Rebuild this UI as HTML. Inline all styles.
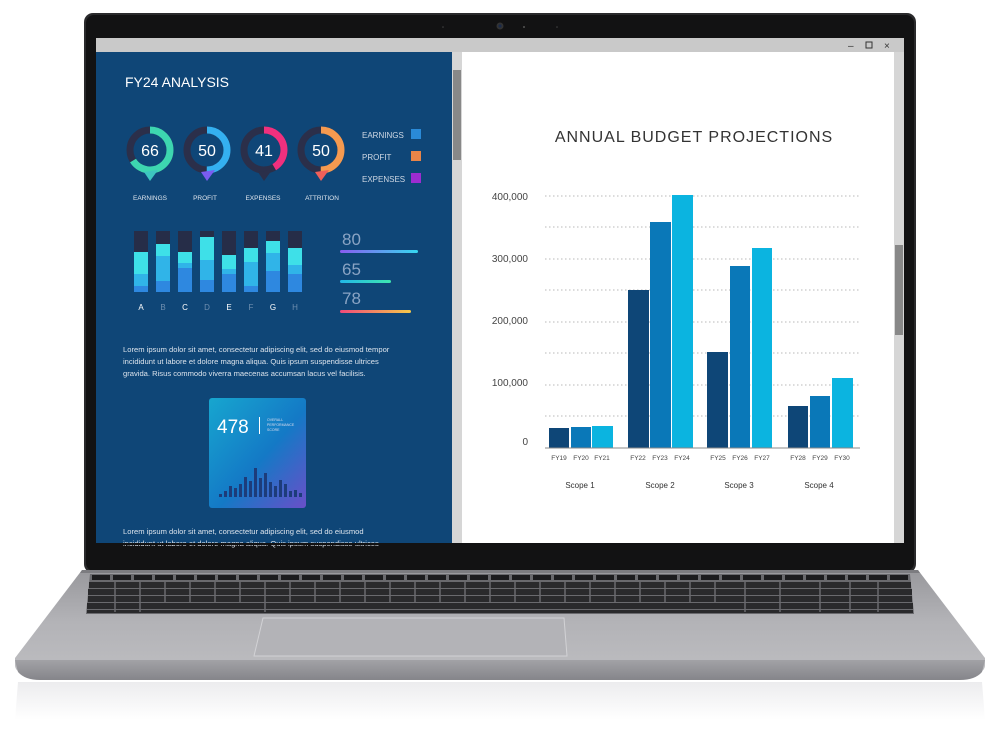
<!DOCTYPE html>
<html><head><meta charset="utf-8"><style>
html,body{margin:0;padding:0;background:#fff;}
body{width:1000px;height:740px;position:relative;overflow:hidden;font-family:"Liberation Sans",sans-serif;}
.a{position:absolute;}
</style></head><body>
<svg class="a" style="left:0;top:0" width="1000" height="740" viewBox="0 0 1000 740" font-family="Liberation Sans, sans-serif">
<defs>
<linearGradient id="deck" x1="0" y1="0" x2="0" y2="1"><stop offset="0" stop-color="#98989c"/><stop offset="0.5" stop-color="#b3b3b7"/><stop offset="1" stop-color="#bdbdc0"/></linearGradient>
<linearGradient id="lip" x1="0" y1="0" x2="0" y2="1"><stop offset="0" stop-color="#a2a2a6"/><stop offset="1" stop-color="#85858a"/></linearGradient>
<linearGradient id="card" x1="0" y1="0" x2="1" y2="1"><stop offset="0" stop-color="#17a6cf"/><stop offset="0.55" stop-color="#1479c6"/><stop offset="1" stop-color="#6a4fc8"/></linearGradient>
<linearGradient id="g1" x1="0" y1="0" x2="1" y2="0"><stop offset="0" stop-color="#8a5cf0"/><stop offset="1" stop-color="#36d8f0"/></linearGradient>
<linearGradient id="g2" x1="0" y1="0" x2="1" y2="0"><stop offset="0" stop-color="#22b8e8"/><stop offset="1" stop-color="#3ee6b0"/></linearGradient>
<linearGradient id="g3" x1="0" y1="0" x2="1" y2="0"><stop offset="0" stop-color="#f04a7a"/><stop offset="1" stop-color="#f5c94a"/></linearGradient>
<linearGradient id="refl" x1="0" y1="0" x2="0" y2="1"><stop offset="0" stop-color="#ececee"/><stop offset="1" stop-color="#fff"/></linearGradient>
</defs>
<path d="M18 682 L982 682 L985 720 L15 720Z" fill="url(#refl)"/>
<rect x="84" y="13" width="832" height="560" rx="9" fill="#2a2a2c"/>
<rect x="86" y="15" width="828" height="556" rx="8" fill="#121213"/>
<circle cx="500" cy="26" r="3.5" fill="#333"/><circle cx="500" cy="26" r="1.6" fill="#1a2a4a"/>
<circle cx="524" cy="27" r="1" fill="#555"/><circle cx="443" cy="27" r="0.8" fill="#444"/><circle cx="557" cy="27" r="0.8" fill="#444"/>
<path d="M82 570 L918 570 L985 658 L985 665 Q985 672 975 674 L25 674 Q15 672 15 665 L15 658Z" fill="url(#deck)"/>
<path d="M15 660 L985 660 L982 672 Q975 680 960 680 L40 680 Q25 680 18 672Z" fill="url(#lip)"/>
<path d="M82 570 L918 570 L920 573 L80 573Z" fill="#7c7c80"/>
<path d="M90 574 L910 574 L914 614 L86 614Z" fill="#6a6a6e"/>
<g fill="#1c1c1e">
<rect x="92" y="575" width="18" height="5"/><rect x="113" y="575" width="18" height="5"/><rect x="134" y="575" width="18" height="5"/><rect x="155" y="575" width="18" height="5"/><rect x="176" y="575" width="18" height="5"/><rect x="197" y="575" width="18" height="5"/><rect x="218" y="575" width="18" height="5"/><rect x="239" y="575" width="18" height="5"/><rect x="260" y="575" width="18" height="5"/><rect x="281" y="575" width="18" height="5"/><rect x="302" y="575" width="18" height="5"/><rect x="323" y="575" width="18" height="5"/><rect x="344" y="575" width="18" height="5"/><rect x="365" y="575" width="18" height="5"/><rect x="386" y="575" width="18" height="5"/><rect x="407" y="575" width="18" height="5"/><rect x="428" y="575" width="18" height="5"/><rect x="449" y="575" width="18" height="5"/><rect x="470" y="575" width="18" height="5"/><rect x="491" y="575" width="18" height="5"/><rect x="512" y="575" width="18" height="5"/><rect x="533" y="575" width="18" height="5"/><rect x="554" y="575" width="18" height="5"/><rect x="575" y="575" width="18" height="5"/><rect x="596" y="575" width="18" height="5"/><rect x="617" y="575" width="18" height="5"/><rect x="638" y="575" width="18" height="5"/><rect x="659" y="575" width="18" height="5"/><rect x="680" y="575" width="18" height="5"/><rect x="701" y="575" width="18" height="5"/><rect x="722" y="575" width="18" height="5"/><rect x="743" y="575" width="18" height="5"/><rect x="764" y="575" width="18" height="5"/><rect x="785" y="575" width="18" height="5"/><rect x="806" y="575" width="18" height="5"/><rect x="827" y="575" width="18" height="5"/><rect x="848" y="575" width="18" height="5"/><rect x="869" y="575" width="18" height="5"/><rect x="890" y="575" width="18" height="5"/>
</g>
<g fill="#2a2a2c">
<rect x="89" y="582" width="822" height="6"/><rect x="88" y="589" width="824" height="6"/><rect x="88" y="596" width="824" height="6"/><rect x="87" y="603" width="826" height="6"/><rect x="87" y="610" width="826" height="3"/>
</g>
<g stroke="#6a6a6e" stroke-width="1.5">
<line x1="115" y1="582" x2="115" y2="612"/><line x1="140" y1="582" x2="140" y2="612"/><line x1="165" y1="582" x2="165" y2="603"/><line x1="190" y1="582" x2="190" y2="603"/><line x1="215" y1="582" x2="215" y2="603"/><line x1="240" y1="582" x2="240" y2="603"/><line x1="265" y1="582" x2="265" y2="612"/><line x1="290" y1="582" x2="290" y2="603"/><line x1="315" y1="582" x2="315" y2="603"/><line x1="340" y1="582" x2="340" y2="603"/><line x1="365" y1="582" x2="365" y2="603"/><line x1="390" y1="582" x2="390" y2="603"/><line x1="415" y1="582" x2="415" y2="603"/><line x1="440" y1="582" x2="440" y2="603"/><line x1="465" y1="582" x2="465" y2="603"/><line x1="490" y1="582" x2="490" y2="603"/><line x1="515" y1="582" x2="515" y2="603"/><line x1="540" y1="582" x2="540" y2="603"/><line x1="565" y1="582" x2="565" y2="603"/><line x1="590" y1="582" x2="590" y2="603"/><line x1="615" y1="582" x2="615" y2="603"/><line x1="640" y1="582" x2="640" y2="603"/><line x1="665" y1="582" x2="665" y2="603"/><line x1="690" y1="582" x2="690" y2="603"/><line x1="715" y1="582" x2="715" y2="603"/><line x1="745" y1="582" x2="745" y2="612"/><line x1="780" y1="582" x2="780" y2="612"/><line x1="820" y1="582" x2="820" y2="612"/><line x1="850" y1="582" x2="850" y2="612"/><line x1="878" y1="582" x2="878" y2="612"/>
</g>
<path d="M263 618 L564 618 L567 656 L254 656Z" fill="#b3b3b7" stroke="#d2d2d5" stroke-width="1"/>
<rect x="96" y="38" width="808" height="506" fill="#fff"/>
<rect x="96" y="38" width="808" height="14" fill="#c9c9c9"/>
<text x="848" y="49" font-size="10" fill="#333">–</text>
<rect x="866" y="42" width="6" height="6" fill="none" stroke="#333" stroke-width="1"/>
<text x="884" y="49" font-size="10" fill="#333">×</text>
<rect x="96" y="52" width="356" height="492" fill="#0f4677"/>
<rect x="452" y="52" width="10" height="492" fill="#d6d6d6"/>
<rect x="453" y="70" width="8" height="90" fill="#888"/>
<rect x="894" y="52" width="10" height="492" fill="#d6d6d6"/>
<rect x="895" y="245" width="8" height="90" fill="#888"/>
<text x="125" y="87" font-size="14" fill="#fff">FY24 ANALYSIS</text>
<g fill="none" stroke-width="7">
<circle cx="150" cy="150" r="20" stroke="#2b2f4a"/>
<circle cx="150" cy="150" r="20" stroke="#3dd6b0" stroke-dasharray="83 200" transform="rotate(-90 150 150)"/>
<circle cx="207" cy="150" r="20" stroke="#2b2f4a"/>
<circle cx="207" cy="150" r="20" stroke="#34b0f0" stroke-dasharray="63 200" transform="rotate(-90 207 150)"/>
<circle cx="264" cy="150" r="20" stroke="#2b2f4a"/>
<circle cx="264" cy="150" r="20" stroke="#f0307e" stroke-dasharray="52 200" transform="rotate(-90 264 150)"/>
<circle cx="321" cy="150" r="20" stroke="#2b2f4a"/>
<circle cx="321" cy="150" r="20" stroke="#f59a50" stroke-dasharray="63 200" transform="rotate(-90 321 150)"/>
</g>
<path d="M144 172 L150 181 L158 170Z" fill="#3dc6c0"/><path d="M201 172 L207 181 L215 170Z" fill="#7a5cf0"/><path d="M258 172 L264 181 L272 170Z" fill="#2b2f4a"/><path d="M315 172 L321 181 L329 170Z" fill="#f0605a"/>
<g font-size="16" fill="#fff" text-anchor="middle">
<text x="150" y="156">66</text><text x="207" y="156">50</text><text x="264" y="156">41</text><text x="321" y="156">50</text>
</g>
<g font-size="6.5" fill="#dfe6ee" text-anchor="middle">
<text x="150" y="200">EARNINGS</text><text x="205" y="200">PROFIT</text><text x="263" y="200">EXPENSES</text><text x="322" y="200">ATTRITION</text>
</g>
<g font-size="8" fill="#cfd8e4">
<text x="362" y="138">EARNINGS</text><text x="362" y="160">PROFIT</text><text x="362" y="182">EXPENSES</text>
</g>
<rect x="411" y="129" width="10" height="10" fill="#2a8ad8"/><rect x="411" y="151" width="10" height="10" fill="#e98548"/><rect x="411" y="173" width="10" height="10" fill="#9c2cd0"/>
<g>
<rect x="134" y="231" width="14" height="61" fill="#262d48"/><rect x="134" y="252" width="14" height="40" fill="#3ee0e8"/><rect x="134" y="274" width="14" height="18" fill="#30b4e8"/><rect x="134" y="286" width="14" height="6" fill="#2e88e0"/>
<rect x="156" y="231" width="14" height="61" fill="#262d48"/><rect x="156" y="244" width="14" height="48" fill="#3ee0e8"/><rect x="156" y="256" width="14" height="36" fill="#30b4e8"/><rect x="156" y="281" width="14" height="11" fill="#2e88e0"/>
<rect x="178" y="231" width="14" height="61" fill="#262d48"/><rect x="178" y="252" width="14" height="40" fill="#3ee0e8"/><rect x="178" y="263" width="14" height="29" fill="#30b4e8"/><rect x="178" y="268" width="14" height="24" fill="#2e88e0"/>
<rect x="200" y="231" width="14" height="61" fill="#262d48"/><rect x="200" y="237" width="14" height="55" fill="#3ee0e8"/><rect x="200" y="260" width="14" height="32" fill="#30b4e8"/><rect x="200" y="280" width="14" height="12" fill="#2e88e0"/>
<rect x="222" y="231" width="14" height="61" fill="#262d48"/><rect x="222" y="255" width="14" height="37" fill="#3ee0e8"/><rect x="222" y="269" width="14" height="23" fill="#30b4e8"/><rect x="222" y="274" width="14" height="18" fill="#2e88e0"/>
<rect x="244" y="231" width="14" height="61" fill="#262d48"/><rect x="244" y="248" width="14" height="44" fill="#3ee0e8"/><rect x="244" y="262" width="14" height="30" fill="#30b4e8"/><rect x="244" y="286" width="14" height="6" fill="#2e88e0"/>
<rect x="266" y="231" width="14" height="61" fill="#262d48"/><rect x="266" y="241" width="14" height="51" fill="#3ee0e8"/><rect x="266" y="253" width="14" height="39" fill="#30b4e8"/><rect x="266" y="271" width="14" height="21" fill="#2e88e0"/>
<rect x="288" y="231" width="14" height="61" fill="#262d48"/><rect x="288" y="248" width="14" height="44" fill="#3ee0e8"/><rect x="288" y="265" width="14" height="27" fill="#30b4e8"/><rect x="288" y="274" width="14" height="18" fill="#2e88e0"/>
</g>
<g font-size="8" text-anchor="middle">
<text x="141" y="310" fill="#fff">A</text><text x="163" y="310" fill="#6f8fb0">B</text><text x="185" y="310" fill="#fff">C</text><text x="207" y="310" fill="#6f8fb0">D</text><text x="229" y="310" fill="#fff">E</text><text x="251" y="310" fill="#6f8fb0">F</text><text x="273" y="310" fill="#fff">G</text><text x="295" y="310" fill="#6f8fb0">H</text>
</g>
<g font-size="17" fill="#8aa4c4">
<text x="342" y="245">80</text><text x="342" y="275">65</text><text x="342" y="304">78</text>
</g>
<rect x="340" y="250" width="78" height="3" rx="1.5" fill="url(#g1)"/>
<rect x="340" y="280" width="51" height="3" rx="1.5" fill="url(#g2)"/>
<rect x="340" y="310" width="71" height="3" rx="1.5" fill="url(#g3)"/>
<g font-size="7.6" fill="#dbe3ec">
<text x="123" y="352">Lorem ipsum dolor sit amet, consectetur adipiscing elit, sed do eiusmod tempor</text>
<text x="123" y="364">incididunt ut labore et dolore magna aliqua. Quis ipsum suspendisse ultrices</text>
<text x="123" y="376">gravida. Risus commodo viverra maecenas accumsan lacus vel facilisis.</text>
<text x="123" y="534">Lorem ipsum dolor sit amet, consectetur adipiscing elit, sed do eiusmod</text>
<text x="123" y="546">incididunt ut labore et dolore magna aliqua. Quis ipsum suspendisse ultrices</text>
</g>
<rect x="209" y="398" width="97" height="110" rx="3" fill="url(#card)"/>
<text x="217" y="433" font-size="19" fill="#fff">478</text>
<rect x="259" y="417" width="1" height="17" fill="#fff"/>
<g font-size="3.5" fill="#dde"><text x="267" y="421">OVERALL</text><text x="267" y="426">PERFORMANCE</text><text x="267" y="431">SCORE</text></g>
<g fill="#1d3c7a">
<rect x="219" y="494" width="3" height="3"/><rect x="224" y="491" width="3" height="6"/><rect x="229" y="486" width="3" height="11"/><rect x="234" y="488" width="3" height="9"/><rect x="239" y="484" width="3" height="13"/><rect x="244" y="477" width="3" height="20"/><rect x="249" y="481" width="3" height="16"/><rect x="254" y="468" width="3" height="29"/><rect x="259" y="478" width="3" height="19"/><rect x="264" y="473" width="3" height="24"/><rect x="269" y="482" width="3" height="15"/><rect x="274" y="486" width="3" height="11"/><rect x="279" y="480" width="3" height="17"/><rect x="284" y="484" width="3" height="13"/><rect x="289" y="491" width="3" height="6"/><rect x="294" y="490" width="3" height="7"/><rect x="299" y="493" width="3" height="4"/>
</g>
<rect x="96" y="543" width="808" height="2" fill="#121213"/>
<text x="694" y="142" font-size="16" fill="#333" text-anchor="middle" letter-spacing="1">ANNUAL BUDGET PROJECTIONS</text>
<g stroke="#b8b8b8" stroke-width="1" stroke-dasharray="1.5 2.5">
<line x1="545" y1="196" x2="860" y2="196"/><line x1="545" y1="227" x2="860" y2="227"/><line x1="545" y1="259" x2="860" y2="259"/><line x1="545" y1="290" x2="860" y2="290"/><line x1="545" y1="322" x2="860" y2="322"/><line x1="545" y1="353" x2="860" y2="353"/><line x1="545" y1="385" x2="860" y2="385"/><line x1="545" y1="416" x2="860" y2="416"/>
</g>
<g font-size="10" fill="#444" text-anchor="end">
<text x="528" y="200">400,000</text><text x="528" y="262">300,000</text><text x="528" y="324">200,000</text><text x="528" y="386">100,000</text><text x="528" y="445">0</text>
</g>
<g>
<rect x="549" y="428" width="20" height="20" fill="#0e4677"/><rect x="571" y="427" width="20" height="21" fill="#0a78b8"/><rect x="592" y="426" width="21" height="22" fill="#0bb4e0"/>
<rect x="628" y="290" width="21" height="158" fill="#0e4677"/><rect x="650" y="222" width="21" height="226" fill="#0a78b8"/><rect x="672" y="195" width="21" height="253" fill="#0bb4e0"/>
<rect x="707" y="352" width="21" height="96" fill="#0e4677"/><rect x="730" y="266" width="20" height="182" fill="#0a78b8"/><rect x="752" y="248" width="20" height="200" fill="#0bb4e0"/>
<rect x="788" y="406" width="20" height="42" fill="#0e4677"/><rect x="810" y="396" width="20" height="52" fill="#0a78b8"/><rect x="832" y="378" width="21" height="70" fill="#0bb4e0"/>
</g>
<line x1="545" y1="448" x2="860" y2="448" stroke="#888" stroke-width="1"/>
<g font-size="6.5" fill="#444" text-anchor="middle">
<text x="559" y="460">FY19</text><text x="581" y="460">FY20</text><text x="602" y="460">FY21</text>
<text x="638" y="460">FY22</text><text x="660" y="460">FY23</text><text x="682" y="460">FY24</text>
<text x="718" y="460">FY25</text><text x="740" y="460">FY26</text><text x="762" y="460">FY27</text>
<text x="798" y="460">FY28</text><text x="820" y="460">FY29</text><text x="842" y="460">FY30</text>
</g>
<g font-size="8" fill="#333" text-anchor="middle">
<text x="580" y="488">Scope 1</text><text x="660" y="488">Scope 2</text><text x="739" y="488">Scope 3</text><text x="819" y="488">Scope 4</text>
</g>
</svg>
</body></html>
